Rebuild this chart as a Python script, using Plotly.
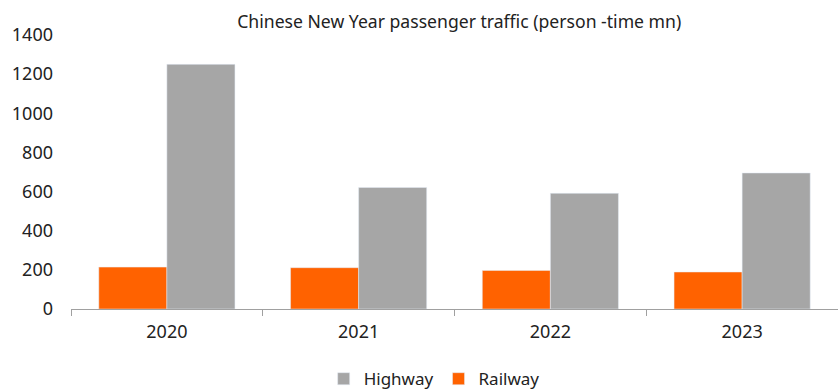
import plotly.graph_objects as go

years = ["2020", "2021", "2022", "2023"]
railway = [214, 211, 197, 189]
highway = [1250, 621, 591, 695]

font_family = "Noto Sans, Lato, sans-serif"

fig = go.Figure()
fig.add_trace(go.Bar(name="Railway", x=years, y=railway, marker_color="#FF6200"))
fig.add_trace(go.Bar(name="Highway", x=years, y=highway, marker_color="#A6A6A6"))

fig.update_layout(
    width=838, height=389,
    margin=dict(l=71, r=0, t=35, b=80, autoexpand=False),
    paper_bgcolor="white", plot_bgcolor="white",
    barmode="group", bargap=0.29, bargroupgap=0,
    font=dict(family=font_family, color="#222222", size=18),
    title=dict(text="Chinese New Year passenger traffic (person -time mn)",
               x=0.548, xanchor="center", y=0.945, yanchor="middle",
               font=dict(size=17.6, family=font_family, color="#222222")),
    legend=dict(orientation="h", x=0.4735, xanchor="center", y=-0.256, yanchor="middle",
                traceorder="reversed", font=dict(size=17), itemwidth=30),
    showlegend=True,
)
fig.update_xaxes(showline=True, linecolor="#A0A0A0", linewidth=1, automargin=False,
                 ticks="outside", tickson="boundaries", ticklen=6, tickcolor="#A0A0A0",
                 showgrid=False, tickfont=dict(size=18), ticklabelstandoff=6)
fig.update_yaxes(range=[0, 1400], dtick=200, showgrid=False, zeroline=False, automargin=False,
                 showline=False, ticks="", tickfont=dict(size=18), ticklabelstandoff=17)

fig.write_html("out.html", config={"displayModeBar": False},
               post_script="document.body.style.margin='0px';document.body.style.overflow='hidden';")
